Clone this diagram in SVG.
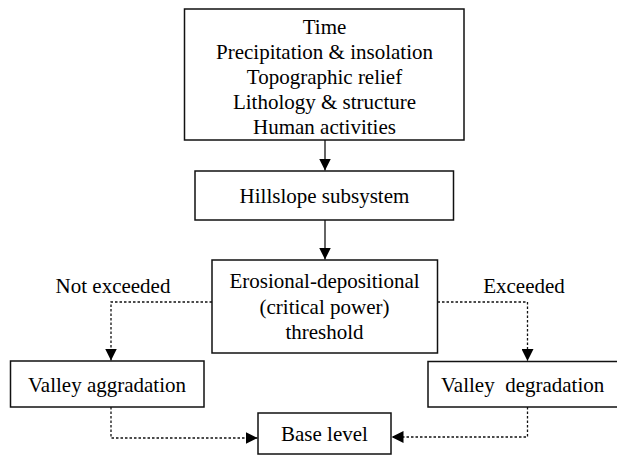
<svg xmlns="http://www.w3.org/2000/svg" width="617" height="455" viewBox="0 0 617 455">
<style>
.box{fill:#fff;stroke:#111;stroke-width:1.5}
.t{font-family:'Liberation Serif',Tinos,'Times New Roman',Times,'DejaVu Serif',serif;font-size:21px;fill:#000;text-anchor:middle}
.solid{fill:none;stroke:#111;stroke-width:1.3}
.dot{fill:none;stroke:#111;stroke-width:1.3;stroke-dasharray:2.5 2}
</style>
<defs>
<marker id="ah" viewBox="0 0 12 12" refX="12" refY="6" markerWidth="12" markerHeight="12" markerUnits="userSpaceOnUse" orient="auto">
<path d="M0,0 L12,6 L0,12 Z" fill="#000"/>
</marker>
</defs>
<rect width="617" height="455" fill="#fff"/>
<g id="connectors">
<line class="solid" x1="325" y1="140" x2="325" y2="170.5" marker-end="url(#ah)"/>
<line class="solid" x1="325" y1="220" x2="325" y2="259.5" marker-end="url(#ah)"/>
<polyline class="dot" points="212,302 111,302 111,360.5" marker-end="url(#ah)"/>
<polyline class="dot" points="437.5,302 527.5,302 527.5,361" marker-end="url(#ah)"/>
<polyline class="dot" points="111,407 111,438 257.5,438" marker-end="url(#ah)"/>
<polyline class="dot" points="527.5,407 527.5,437 391.5,437" marker-end="url(#ah)"/>
</g>
<g id="factors">
<rect class="box" x="184.5" y="9" width="279.5" height="131"/>
<text class="t" x="324.5" y="34">Time</text>
<text class="t" x="324.5" y="59">Precipitation &amp; insolation</text>
<text class="t" x="324.5" y="84">Topographic relief</text>
<text class="t" x="324.5" y="109">Lithology &amp; structure</text>
<text class="t" x="324.5" y="134">Human activities</text>
</g>
<g id="hillslope">
<rect class="box" x="195" y="171" width="258.5" height="49"/>
<text class="t" x="324.5" y="203">Hillslope subsystem</text>
</g>
<g id="threshold">
<rect class="box" x="212" y="260" width="225.5" height="93"/>
<text class="t" x="324.5" y="288">Erosional-depositional</text>
<text class="t" x="324.5" y="314">(critical power)</text>
<text class="t" x="324.5" y="339">threshold</text>
</g>
<g id="label-not-exceeded">
<text class="t" x="113" y="293">Not exceeded</text>
</g>
<g id="label-exceeded">
<text class="t" x="524" y="293">Exceeded</text>
</g>
<g id="valley-aggradation">
<rect class="box" x="10.5" y="361" width="193.5" height="46"/>
<text class="t" x="107" y="392">Valley aggradation</text>
</g>
<g id="valley-degradation">
<rect class="box" x="428" y="361.5" width="200" height="45.5"/>
<text class="t" x="441" y="392" style="text-anchor:start;white-space:pre">Valley  degradation</text>
</g>
<g id="base-level">
<rect class="box" x="258" y="413" width="133" height="41"/>
<text class="t" x="324.5" y="441">Base level</text>
</g>
</svg>
